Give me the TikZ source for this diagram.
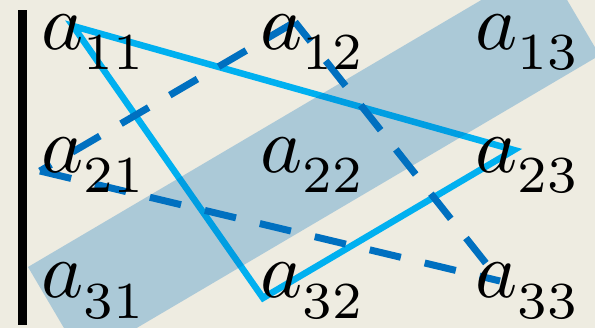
\documentclass[tikz,border=0pt]{standalone}
\usepackage{xcolor}
\definecolor{colBack}{HTML}{EEECE1}
\definecolor{colTri}{HTML}{00B0F0}
\definecolor{colDash}{HTML}{0070C0}
\usetikzlibrary{calc}

\newcommand{\matent}[1]{$a$\raisebox{-2.5pt}{\fontsize{6.5}{6.5}\selectfont #1}}

\tikzset{
  elem/.style={anchor=base west, inner sep=0pt, scale=8},
  solidline/.style={colTri, line width=6.5pt},
  dashline/.style={colDash, line width=7pt, dash pattern=on 32pt off 24.5pt},
}

\begin{document}
\begin{tikzpicture}[x=1pt, y=-1pt]
  \fill[colBack] (0,0) rectangle (595,328);
  \useasboundingbox (0,0) rectangle (595,328);
  \clip (0,0) rectangle (595,328);
  % corners of the two triangles
  \coordinate (v11) at (73,26);
  \coordinate (v23) at (514,150);
  \coordinate (v32) at (263,298);
  \coordinate (v12) at (295,22);
  \coordinate (v21) at (40,171);
  \coordinate (v33) at (500,281);
  \draw[solidline] (v11) -- (v23) -- (v32) -- cycle;
  \draw[dashline] (v12) -- (v21);
  \draw[dashline] (v21) -- (v33);
  \draw[dashline, dash phase=7pt] (v12) -- (v33);
  % diagonal band
  \fill[colDash, opacity=0.28] (28,267) -- (82.7,359.8) -- (599.7,55.3) -- (545,-37.5) -- cycle;
  % matrix entries
  \foreach \r/\y in {1/50,2/173,3/298}
    \foreach \c/\x in {1/40,2/259,3/474}
      \node[elem] (a\r\c) at (\x,\y) {\matent{\r\c}};
  % determinant bar
  \fill[black] (18,10) rectangle (26.5,325);
\end{tikzpicture}
\end{document}
